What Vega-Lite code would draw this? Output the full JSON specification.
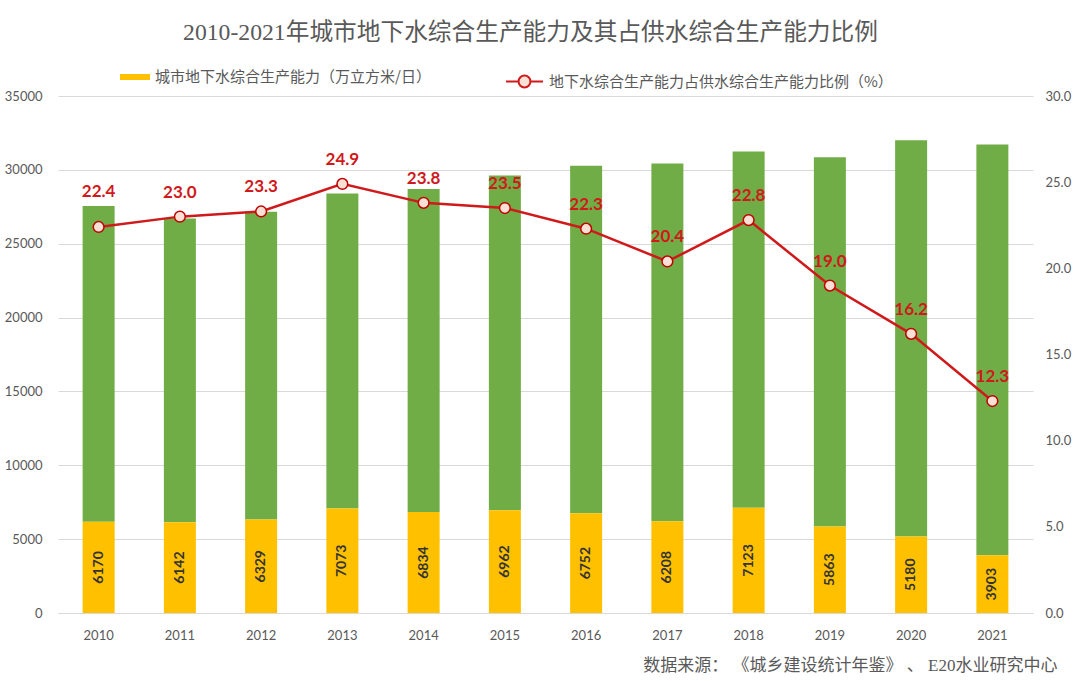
{
  "$schema": "https://vega.github.io/schema/vega-lite/v6.json",
  "width": 975,
  "height": 517,
  "autosize": {"type": "none"},
  "padding": {"left": 58, "top": 96, "right": 47, "bottom": 68},
  "background": "#FFFFFF",
  "config": {"view": {"stroke": null}, "font": "Lato"},
  "title": {
    "text": "2010-2021年城市地下水综合生产能力及其占供水综合生产能力比例",
    "font": "Liberation Serif, Noto Sans CJK SC",
    "fontSize": 23.7,
    "fontWeight": "normal",
    "color": "#595959",
    "anchor": "middle",
    "dx": -15,
    "offset": -2,
    "baseline": "alphabetic"
  },
  "data": {
    "values": [
      {"year": 2010, "groundwater": 6170, "total": 27550, "ratio": 22.4},
      {"year": 2011, "groundwater": 6142, "total": 26700, "ratio": 23.0},
      {"year": 2012, "groundwater": 6329, "total": 27160, "ratio": 23.3},
      {"year": 2013, "groundwater": 7073, "total": 28400, "ratio": 24.9},
      {"year": 2014, "groundwater": 6834, "total": 28700, "ratio": 23.8},
      {"year": 2015, "groundwater": 6962, "total": 29620, "ratio": 23.5},
      {"year": 2016, "groundwater": 6752, "total": 30280, "ratio": 22.3},
      {"year": 2017, "groundwater": 6208, "total": 30430, "ratio": 20.4},
      {"year": 2018, "groundwater": 7123, "total": 31240, "ratio": 22.8},
      {"year": 2019, "groundwater": 5863, "total": 30860, "ratio": 19.0},
      {"year": 2020, "groundwater": 5180, "total": 32000, "ratio": 16.2},
      {"year": 2021, "groundwater": 3903, "total": 31720, "ratio": 12.3}
    ]
  },
  "encoding": {
    "x": {
      "field": "year",
      "type": "ordinal",
      "scale": {"paddingInner": 0, "paddingOuter": 0},
      "axis": {
        "labelAngle": 0,
        "labelPadding": 16,
        "labelFontSize": 13,
        "labelColor": "#595959",
        "labelFont": "Lato",
        "domainColor": "#D9D9D9",
        "ticks": false,
        "title": "数据来源： 《城乡建设统计年鉴》 、 E20水业研究中心",
        "titleFont": "Liberation Serif, Noto Sans CJK SC",
        "titleFontSize": 17,
        "titleFontWeight": "normal",
        "titleColor": "#595959",
        "titleAnchor": "end",
        "titleAlign": "right",
        "titleBaseline": "middle",
        "titleX": 999,
        "titleY": 52
      }
    }
  },
  "layer": [
    {
      "layer": [
        {
          "mark": {"type": "bar", "size": 32, "color": "#70AD47"},
          "encoding": {
            "y": {"field": "total", "type": "quantitative", "axis": {"title": null}},
            "y2": {"field": "groundwater"}
          }
        },
        {
          "mark": {"type": "bar", "size": 32},
          "encoding": {
            "y": {
              "field": "groundwater",
              "type": "quantitative",
              "stack": null,
              "scale": {"domain": [0, 35000], "nice": false},
              "axis": {
                "orient": "left",
                "title": null,
                "values": [0, 5000, 10000, 15000, 20000, 25000, 30000, 35000],
                "format": "d",
                "domain": false,
                "ticks": false,
                "grid": true,
                "gridColor": "#D9D9D9",
                "gridWidth": 1,
                "labelPadding": 16,
                "labelFontSize": 13,
                "labelColor": "#595959",
                "labelFont": "Lato"
              }
            },
            "color": {
              "datum": "城市地下水综合生产能力（万立方米/日）",
              "type": "nominal",
              "scale": {"range": ["#FFC000"]},
              "legend": {
                "orient": "none",
                "legendX": 62,
                "legendY": -34,
                "title": null,
                "padding": 0,
                "symbolType": "M-1,-0.2H1V0.2H-1Z",
                "symbolSize": 900,
                "symbolStrokeWidth": 0,
                "labelOffset": 5,
                "labelFont": "Noto Sans CJK SC",
                "labelFontSize": 15,
                "labelColor": "#595959",
                "labelLimit": 500
              }
            }
          }
        }
      ]
    },
    {
      "mark": {
        "type": "text",
        "angle": 270,
        "align": "center",
        "baseline": "middle",
        "font": "Lato",
        "fontSize": 14,
        "fontWeight": "bold",
        "color": "#333333"
      },
      "encoding": {
        "y": {
          "field": "groundwater",
          "type": "quantitative",
          "scale": {"domain": [0, 70000], "nice": false},
          "axis": null
        },
        "text": {"field": "groundwater", "type": "quantitative", "format": "d"}
      }
    },
    {
      "encoding": {
        "y": {
          "field": "ratio",
          "type": "quantitative",
          "scale": {"domain": [0, 30], "nice": false},
          "axis": {
            "orient": "right",
            "title": null,
            "values": [0, 5, 10, 15, 20, 25, 30],
            "format": ".1f",
            "domain": false,
            "ticks": false,
            "grid": false,
            "labelPadding": 12,
            "labelFontSize": 13,
            "labelColor": "#595959",
            "labelFont": "Lato"
          }
        }
      },
      "layer": [
        {
          "mark": {"type": "line", "strokeWidth": 2.5},
          "encoding": {
            "stroke": {
              "datum": "地下水综合生产能力占供水综合生产能力比例（%）",
              "type": "nominal",
              "scale": {"range": ["#D0191B"]},
              "legend": {
                "orient": "none",
                "legendX": 447,
                "legendY": -34,
                "title": null,
                "padding": 0,
                "symbolType": "M-1,0H-0.32A0.32,0.32 0 1,1 0.32,0A0.32,0.32 0 1,1 -0.32,0M0.32,0H1",
                "symbolSize": 1369,
                "symbolStrokeWidth": 2,
                "symbolFillColor": "#FBE0D5",
                "labelOffset": 5,
                "labelFont": "Noto Sans CJK SC",
                "labelFontSize": 15,
                "labelColor": "#595959",
                "labelLimit": 500,
                "encode": {
                  "symbols": {
                    "update": {
                      "fill": {"value": "#FBE0D5"},
                      "stroke": {"value": "#C00000"},
                      "strokeWidth": {"value": 2}
                    }
                  }
                }
              }
            }
          }
        },
        {
          "mark": {
            "type": "point",
            "shape": "circle",
            "size": 115,
            "filled": true,
            "fill": "#FBE0D5",
            "stroke": "#C00000",
            "strokeWidth": 1.5,
            "opacity": 1
          }
        },
        {
          "transform": [{"filter": "datum.year != 2010"}],
          "mark": {
            "type": "text",
            "dy": -24,
            "font": "Lato",
            "fontSize": 17,
            "fontWeight": "bold",
            "color": "#D0191B",
            "baseline": "middle"
          },
          "encoding": {"text": {"field": "ratio", "type": "quantitative", "format": ".1f"}}
        },
        {
          "transform": [{"filter": "datum.year == 2010"}],
          "mark": {
            "type": "text",
            "dy": -35,
            "font": "Lato",
            "fontSize": 17,
            "fontWeight": "bold",
            "color": "#D0191B",
            "baseline": "middle"
          },
          "encoding": {"text": {"field": "ratio", "type": "quantitative", "format": ".1f"}}
        }
      ]
    }
  ],
  "resolve": {"scale": {"y": "independent"}}
}
